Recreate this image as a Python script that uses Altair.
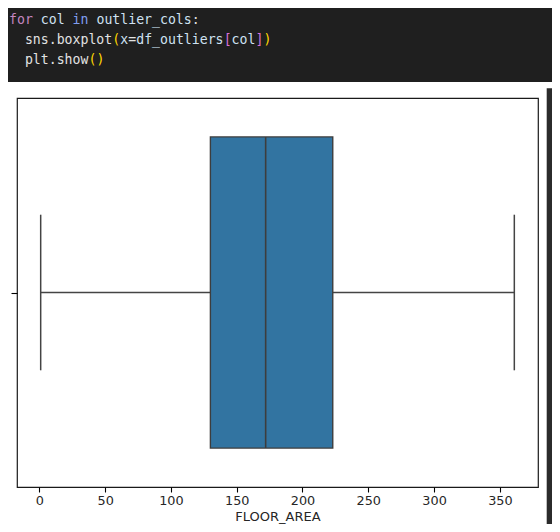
import altair as alt
import pandas as pd

# ---- data -----------------------------------------------------------------
stat_names = ["min", "q1", "median", "q3", "max"]
stat_values = [1, 130, 172, 223, 361]
x_ticks = [0, 50, 100, 150, 200, 250, 300, 350]
x_domain = [-17, 379]
x_title = "FLOOR_AREA"

# code cell shown above the plot: (text, role) tokens per line
code_lines = [
    [("for", "kw"), (" ", None), ("col", "var"), (" ", None), ("in", "op"),
     (" ", None), ("outlier_cols", "var"), (":", "plain")],
    [("  ", None), ("sns.boxplot", "plain"), ("(", "br1"), ("x", "var"),
     ("=", "plain"), ("df_outliers", "var"), ("[", "br2"), ("col", "var"),
     ("]", "br2"), (")", "br1")],
    [("  ", None), ("plt.show", "plain"), ("()", "br1")],
]
role_colors = {
    "kw": "#c586c0", "op": "#7f9ef0", "var": "#d0e2f2", "plain": "#e2e2e2",
    "br1": "#ffd700", "br2": "#da70d6",
}

# ---- layout ----------------------------------------------------------------
PAD_L, PAD_T, W, H = 9, 90, 521, 389
TOTAL_W, TOTAL_H = 544, 516
CW = 7.95            # monospace advance
CODE_X0 = -8
CODE_BASE = [-74.5, -54.0, -34.0]

stats = pd.DataFrame({n: [v] for n, v in zip(stat_names, stat_values)})

base = alt.Chart(stats)

xs = alt.Scale(domain=x_domain, nice=False, zero=False)
ys = alt.Scale(domain=[-0.5, 0.5], nice=False, zero=False)

x_axis = alt.Axis(values=x_ticks, grid=False, domain=False, tickSize=5,
                  tickColor="#000", tickWidth=1.1, labelFont="DejaVu Sans",
                  labelFontSize=12.8, labelColor="#262626", labelPadding=2,
                  title=x_title, titleFont="DejaVu Sans", titleFontSize=13,
                  titleFontWeight="normal", titleColor="#262626",
                  titleBaseline="alphabetic", titleY=33)
y_axis = alt.Axis(values=[0], labels=False, grid=False, domain=False,
                  tickSize=6, tickColor="#000", tickWidth=1.1, title=None)

layers = []

# dark code area and the dark bar on the right
layers.append(base.mark_rect(color="#1f1f1f").encode(
    x=alt.value(-PAD_L), x2=alt.value(TOTAL_W - PAD_L),
    y=alt.value(-PAD_T), y2=alt.value(-16)))
layers.append(base.mark_rect(color="#2b2b2b").encode(
    x=alt.value(529.7), x2=alt.value(TOTAL_W - PAD_L),
    y=alt.value(-9.7), y2=alt.value(TOTAL_H - PAD_T)))

for li, toks in enumerate(code_lines):
    col = 0
    for text, role in toks:
        if role is not None:
            layers.append(base.mark_text(
                text=text, font="DejaVu Sans Mono", fontSize=13.2,
                align="left", baseline="alphabetic",
                color=role_colors[role]).encode(
                x=alt.value(CODE_X0 + col * CW), y=alt.value(CODE_BASE[li])))
        col += len(text)

line_col = "#444444"

# whiskers
layers.append(base.mark_rule(color=line_col, strokeWidth=1.5).encode(
    x=alt.X("min:Q", scale=xs, axis=x_axis), x2="q1:Q",
    y=alt.Y(datum=0, scale=ys, axis=y_axis)))
layers.append(base.mark_rule(color=line_col, strokeWidth=1.5).encode(
    x=alt.X("q3:Q", scale=xs), x2="max:Q", y=alt.Y(datum=0, scale=ys)))
# caps
for f in ["min", "max"]:
    layers.append(base.mark_rule(color=line_col, strokeWidth=1.5).encode(
        x=alt.X(f"{f}:Q", scale=xs),
        y=alt.Y(datum=-0.2, scale=ys), y2=alt.Y2(datum=0.2)))
# box
layers.append(base.mark_rect(fill="#3274a1", stroke="#3d3d3d",
                             strokeWidth=1.4).encode(
    x=alt.X("q1:Q", scale=xs), x2="q3:Q",
    y=alt.Y(datum=-0.4, scale=ys), y2=alt.Y2(datum=0.4)))
# median
layers.append(base.mark_rule(color="#3d3d3d", strokeWidth=1.6).encode(
    x=alt.X("median:Q", scale=xs),
    y=alt.Y(datum=-0.4, scale=ys), y2=alt.Y2(datum=0.4)))

chart = alt.layer(*layers).properties(
    width=W, height=H,
    padding={"left": PAD_L, "top": PAD_T,
             "right": TOTAL_W - PAD_L - W, "bottom": TOTAL_H - PAD_T - H},
    autosize=alt.AutoSizeParams(type="none"),
    background="#ffffff",
).configure_view(stroke="#1a1a1a", strokeWidth=1.2)

chart.save("out.html", embed_options={"renderer": "svg", "actions": False})
